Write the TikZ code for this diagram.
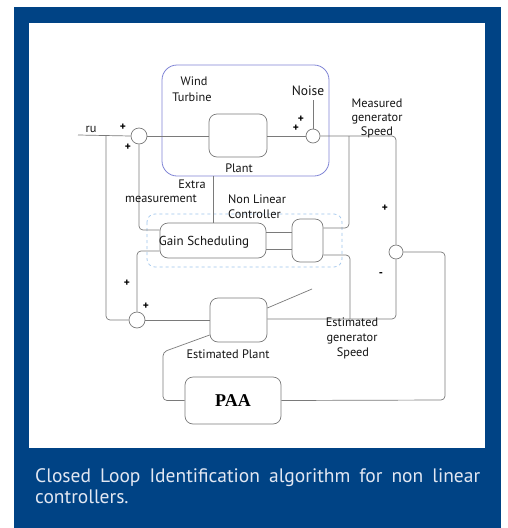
\documentclass[tikz,border=0pt]{standalone}
\usepackage{fontspec}
\setmainfont{PT Sans}
\newfontfamily\paafont{Liberation Serif}
\definecolor{frameblue}{HTML}{004385}
\definecolor{lineg}{HTML}{7A7A7A}
\definecolor{wtblue}{HTML}{8085D6}
\definecolor{nlblue}{HTML}{9DC4EC}
\definecolor{captxt}{HTML}{E2E7F2}
\begin{document}
\begin{tikzpicture}[x=1pt,y=-1pt,
  conn/.style={draw=lineg, line width=0.7pt, rounded corners=4pt},
  blk/.style={draw=lineg, line width=0.7pt, rounded corners=8pt, fill=white, inner sep=0pt},
  sumc/.style={circle, draw=lineg, line width=0.7pt, fill=white, minimum size=15pt, inner sep=0pt},
  lbl/.style={font=\fontsize{12.3}{14}\selectfont, text=black!92, inner sep=0pt, anchor=base},
  sgn/.style={font=\fontsize{11.5}{12}\selectfont\bfseries, text=black, inner sep=0pt},
]
\useasboundingbox (0,0) rectangle (507,528);
% frame
\fill[frameblue] (14,7) rectangle (501,528);
\fill[white] (29,23) rectangle (485,448);
\node[anchor=base west, inner sep=0pt, text=captxt, font=\fontsize{19.5}{21.3}\selectfont] (cap1) at (35,482) {\makebox[445pt][s]{Closed Loop Identification algorithm for non linear}};
\node[anchor=base west, inner sep=0pt, text=captxt, font=\fontsize{19.5}{21.3}\selectfont] (cap2) at (35,503) {controllers.};

% grouping boxes
\draw[wtblue, line width=0.8pt, rounded corners=15pt] (162,65) rectangle (329,176);
\draw[nlblue, line width=0.7pt, dashed, rounded corners=8pt] (147,214) rectangle (342,267);

% blocks
\node[blk, minimum width=58pt, minimum height=43pt] (plant) at (238,135.5) {};
\node[blk, minimum width=106pt, minimum height=35pt] (gain) at (213,240.5) {};
\node[blk, minimum width=31pt, minimum height=43pt] (ctrl) at (307.5,240.5) {};
\node[blk, minimum width=57pt, minimum height=44pt] (est) at (238.5,320) {};
\node[blk, minimum width=96pt, minimum height=47pt, font=\paafont\bfseries\fontsize{18}{20}\selectfont] (paa) at (233,400.5) {PAA};

% summing junctions
\node[sumc, minimum size=16pt] (c1) at (139,136) {};
\node[sumc, minimum size=14pt] (c2) at (313,136) {};
\node[sumc, minimum size=16pt] (c3) at (137,320) {};
\node[sumc, minimum size=14pt] (c4) at (396,252) {};

% coordinates
\coordinate (rustart) at (78,135);
\coordinate (jru) at (106,135);
\coordinate (noisebot) at (313,100);
\coordinate (jm) at (349,136);
\coordinate (jest) at (350,319);
\coordinate (diagend) at (312,289);

% connectors
\draw[conn] (rustart) -- (c1.west);
\draw[conn] (jru) |- (c3.west);
\draw[conn] (c1.east) -- (plant.west |- c1.east);
\draw[conn] (plant.east |- c2.west) -- (c2.west);
\draw[conn] (noisebot) -- (c2.north);
\draw[conn] (c2.east) -| (c4.north);
\draw[conn] (jm) |- (ctrl.east |- 0,228);
\draw[conn] (ctrl.east |- 0,255) -| (jest);
\draw[conn] (est.east |- 0,319) -| (c4.south);
\draw[conn] (c4.east) -| (445,400) -- (paa.east);
\draw[conn] (c3.east) -- (est.west |- c3.east);
\draw[conn] (est.east |- 0,308) -- (diagend);
\draw[conn] (est.west |- 0,335) -- (163,352) |- (paa.west);
\draw[conn] (213,176) -- (gain.north -| 213,0);
\draw[conn] (gain.east |- 0,232) -- (ctrl.west |- 0,232);
\draw[conn] (gain.east |- 0,249) -- (ctrl.west |- 0,249);
\draw[conn] (c1.south) |- (gain.west |- 0,230);
\draw[conn] (gain.west |- 0,251) -| (c3.north);

% labels
\node[lbl] (lru) at (91,132) {ru};
\node[lbl] (lwind) at (194,85) {Wind};
\node[lbl] (lturb) at (192,101) {Turbine};
\node[lbl, font=\fontsize{13.5}{15}\selectfont] (lnoise) at (308,95) {Noise};
\node[lbl] (lms1) at (377,107) {Measured};
\node[lbl] (lms2) at (377,121) {generator};
\node[lbl] (lms3) at (377,135) {Speed};
\node[lbl] (lplant) at (239,172) {Plant};
\node[lbl] (lext1) at (192,188) {Extra};
\node[lbl] (lext2) at (161,202) {measurement};
\node[lbl, anchor=base west] (lnl1) at (228,203) {Non Linear};
\node[lbl, anchor=base west] (lnl2) at (228,218) {Controller};
\node[lbl, font=\fontsize{13}{15}\selectfont] (lgain) at (204,245) {Gain Scheduling};
\node[lbl] (lestp) at (228,358) {Estimated Plant};
\node[lbl] (les1) at (352,326) {Estimated};
\node[lbl] (les2) at (352,341) {generator};
\node[lbl] (les3) at (353,356) {Speed};

% signs
\node[sgn] (s1) at (123,127) {+};
\node[sgn] (s2) at (128,147) {+};
\node[sgn] (s3) at (301,119) {+};
\node[sgn] (s4) at (296,128) {+};
\node[sgn] (s5) at (127,283) {+};
\node[sgn] (s6) at (146,306) {+};
\node[sgn] (s7) at (385,208) {+};
\node[sgn] (s8) at (381,275) {-};
\end{tikzpicture}
\end{document}
